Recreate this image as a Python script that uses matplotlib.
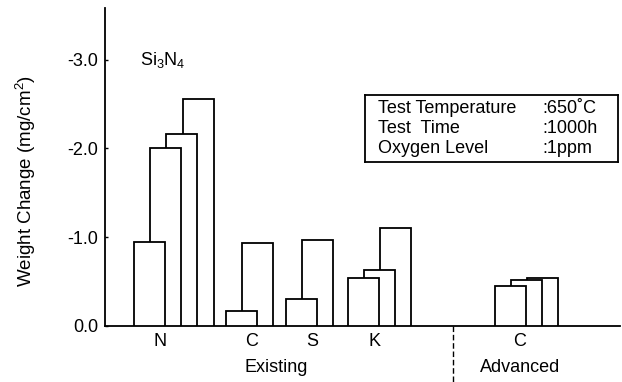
import matplotlib
matplotlib.use("Agg")
import matplotlib.pyplot as plt

plt.rcParams.update({
    "font.family": ["Liberation Sans", "DejaVu Sans"],
    "axes.unicode_minus": False,
    "mathtext.default": "regular",
})

# weight change (mg/cm2), negative = loss, one list per material group
groups = ["N", "C", "S", "K", "C"]
categories = ["Existing", "Existing", "Existing", "Existing", "Advanced"]
weight_change = [
    [-0.95, -2.00, -2.16, -2.55],
    [-0.17, -0.93],
    [-0.30, -0.97],
    [-0.54, -0.63, -1.10],
    [-0.45, -0.52, -0.54],
]
y_ticks = [0.0, -1.0, -2.0, -3.0]
info_keys = ["Test Temperature", "Test  Time", "Oxygen Level"]
info_vals = [":650\u02daC", ":1000h", ":1ppm"]

# layout (x in pixel-like units from the y axis)
BAR_W = 31
STEP = 16.2
group_start = [29, 121, 181, 243, 390]
label_x = [55, 147, 207, 269, 415]
cat_x = {"Existing": 171, "Advanced": 415}
SPLIT_X = 348
FS = 13

fig = plt.figure(figsize=(6.22, 3.82), dpi=100)
ax = fig.add_axes([105 / 622, 56 / 382, 515 / 622, 318 / 382])

for g, vals in enumerate(weight_change):
    for j, v in enumerate(vals):
        ax.bar(group_start[g] + j * STEP, v, width=BAR_W, align="edge",
               facecolor="white", edgecolor="black", linewidth=1.3,
               zorder=10 - j)

ax.set_xlim(0, 515)
ax.set_ylim(0, -3.58)
ax.set_yticks(y_ticks)
ax.set_yticklabels([f"{abs(t):.1f}" if t == 0 else f"{t:.1f}" for t in y_ticks],
                   fontsize=FS)
ax.tick_params(axis="y", direction="in", length=2, width=1, pad=5)
ax.set_xticks(label_x)
ax.set_xticklabels(groups, fontsize=FS)
ax.tick_params(axis="x", length=0, pad=5)
for s in ["top", "right"]:
    ax.spines[s].set_visible(False)
for s in ["left", "bottom"]:
    ax.spines[s].set_linewidth(1.3)

ax.set_ylabel("Weight Change (mg/cm$^2$)", fontsize=FS + 0.5)
ax.yaxis.set_label_coords(-0.13, 0.456)

seen = set()
for c in categories:
    if c in seen:
        continue
    seen.add(c)
    ax.text(cat_x[c], -0.13, c, transform=ax.get_xaxis_transform(),
            ha="center", va="center", fontsize=FS)

ax.plot([SPLIT_X, SPLIT_X], [0, -0.18], transform=ax.get_xaxis_transform(),
        color="black", linewidth=1, linestyle=(0, (4, 2)), clip_on=False)

ax.text(35, -3.0, "Si$_3$N$_4$", fontsize=FS, va="center", ha="left")

# test condition box
box_ax = fig.add_axes([365 / 622, (382 - 162) / 382, 253 / 622, 67 / 382])
box_ax.set_xticks([])
box_ax.set_yticks([])
for s in box_ax.spines.values():
    s.set_linewidth(1.3)
for i, (k, v) in enumerate(zip(info_keys, info_vals)):
    yy = 0.8 - i * 0.3
    box_ax.text(0.05, yy, k, fontsize=FS, va="center", ha="left",
                transform=box_ax.transAxes)
    box_ax.text(0.70, yy, v, fontsize=FS, va="center", ha="left",
                transform=box_ax.transAxes)

fig.savefig("out.png", dpi=100)
